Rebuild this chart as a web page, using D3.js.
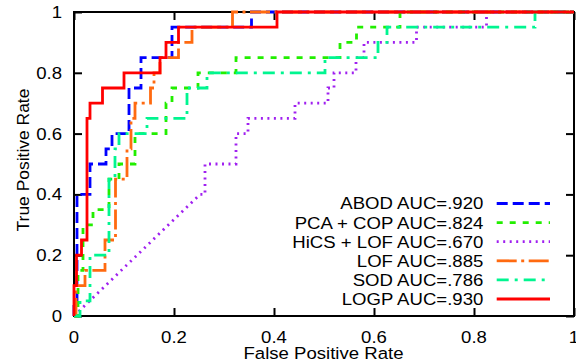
<!DOCTYPE html>
<html><head><meta charset="utf-8">
<script src="https://cdn.jsdelivr.net/npm/d3@7"></script>
<style>
html,body{margin:0;padding:0;background:#fff;}
text{font-family:"Liberation Sans",Arial,Helvetica,sans-serif;fill:#000;}
</style></head>
<body>
<svg id="chart" width="576" height="364"></svg>
<script>
// ---- data (FPR / TPR step corners) ----
const seriesNames = ["ABOD AUC=.920","PCA + COP AUC=.824","HiCS + LOF AUC=.670","LOF AUC=.885","SOD AUC=.786","LOGP AUC=.930"];
const abodFpr = [0,0,0.006,0.006,0.032,0.032,0.064,0.064,0.076,0.076,0.11,0.11,0.134,0.134,0.196,0.196,0.355,0.355,1];
const abodTpr = [0,0.05,0.05,0.4,0.4,0.5,0.5,0.55,0.55,0.6,0.6,0.75,0.75,0.85,0.85,0.95,0.95,1,1];
const pcaFpr = [0,0.008,0.008,0.018,0.018,0.038,0.038,0.07,0.07,0.09,0.09,0.122,0.122,0.184,0.184,0.196,0.196,0.248,0.248,0.324,0.324,0.532,0.532,0.565,0.565,0.652,0.652,1];
const pcaTpr = [0,0,0.15,0.15,0.3,0.3,0.35,0.35,0.45,0.45,0.5,0.5,0.6,0.6,0.7,0.7,0.75,0.75,0.8,0.8,0.85,0.85,0.9,0.9,0.95,0.95,1,1];
const hicsFpr = [0,0.252,0.262,0.262,0.324,0.324,0.348,0.348,0.442,0.442,0.508,0.508,0.52,0.52,0.564,0.564,0.58,0.58,0.685,0.685,0.825,0.825,1];
const hicsTpr = [0,0.4,0.4,0.5,0.5,0.6,0.6,0.65,0.65,0.7,0.7,0.75,0.75,0.8,0.8,0.85,0.85,0.9,0.9,0.95,0.95,1,1];
const lofFpr = [0,0.004,0.004,0.022,0.022,0.062,0.062,0.083,0.083,0.106,0.106,0.114,0.114,0.122,0.122,0.153,0.153,0.16,0.16,0.172,0.172,0.209,0.209,0.236,0.236,0.317,0.317,1];
const lofTpr = [0,0,0.1,0.1,0.15,0.15,0.25,0.25,0.45,0.45,0.55,0.55,0.65,0.65,0.7,0.7,0.75,0.75,0.8,0.8,0.85,0.85,0.9,0.9,0.95,0.95,1,1];
const sodFpr = [0,0.012,0.012,0.032,0.032,0.07,0.07,0.082,0.082,0.09,0.09,0.146,0.146,0.226,0.226,0.266,0.266,0.502,0.502,0.608,0.608,0.626,0.626,0.922,0.922,1];
const sodTpr = [0,0,0.05,0.05,0.2,0.2,0.45,0.45,0.55,0.55,0.6,0.6,0.65,0.65,0.75,0.75,0.8,0.8,0.85,0.85,0.9,0.9,0.95,0.95,1,1];
const logpFpr = [0,0,0.005,0.005,0.015,0.015,0.026,0.026,0.032,0.032,0.057,0.057,0.1,0.1,0.172,0.172,0.184,0.184,0.209,0.209,0.406,0.406,1];
const logpTpr = [0,0.1,0.1,0.2,0.2,0.25,0.25,0.65,0.65,0.7,0.7,0.75,0.75,0.8,0.8,0.85,0.85,0.9,0.9,0.95,0.95,1,1];
const xTicks = [0,0.2,0.4,0.6,0.8,1];
const yTicks = [0,0.2,0.4,0.6,0.8,1];
const xTickLabels = ["0","0.2","0.4","0.6","0.8","1"];
const yTickLabels = ["0","0.2","0.4","0.6","0.8","1"];
const xTitle = "False Positive Rate";
const yTitle = "True Positive Rate";

// ---- styles ----
const colors = ["#0000ff","#22ee00","#a020f0","#ff6a10","#00f590","#ff0000"];
const dashes = ["11,5","6,7","2,4.5","20,4.5,3,4.5","12,6,3,6",null];
const SX = 1.14, FS = 16.3;

const svg = d3.select("#chart");
const L = 74, R = 574, T = 12, B = 316;
const x = d3.scaleLinear().domain([0,1]).range([L,R]);
const y = d3.scaleLinear().domain([0,1]).range([B,T]);

const seriesF = [abodFpr,pcaFpr,hicsFpr,lofFpr,sodFpr,logpFpr];
const seriesT = [abodTpr,pcaTpr,hicsTpr,lofTpr,sodTpr,logpTpr];

// axes with inward ticks (mirrored)
const tl = 8;
const axB = svg.append("g").attr("transform",`translate(0,${B})`)
  .call(d3.axisTop(x).tickValues(xTicks).tickSize(tl).tickFormat(""));
const axT = svg.append("g").attr("transform",`translate(0,${T})`)
  .call(d3.axisBottom(x).tickValues(xTicks).tickSize(tl).tickFormat(""));
const axL = svg.append("g").attr("transform",`translate(${L},0)`)
  .call(d3.axisRight(y).tickValues(yTicks).tickSize(tl).tickFormat(""));
const axR = svg.append("g").attr("transform",`translate(${R},0)`)
  .call(d3.axisLeft(y).tickValues(yTicks).tickSize(tl).tickFormat(""));
[axB,axT,axL,axR].forEach(a=>{
  a.select(".domain").remove();
  a.selectAll(".tick line").attr("stroke","#000").attr("stroke-width",2);
});
svg.append("rect").attr("x",L).attr("y",T).attr("width",R-L).attr("height",B-T)
  .attr("fill","none").attr("stroke","#000").attr("stroke-width",2);

// tick labels
xTicks.forEach((v,i)=>{
  svg.append("text").attr("transform",`translate(${x(v)},343.3) scale(${SX},1)`)
    .attr("text-anchor","middle").attr("font-size",FS).text(xTickLabels[i]);
});
yTicks.forEach((v,i)=>{
  svg.append("text").attr("transform",`translate(62,${y(v)+5.9}) scale(${SX},1)`)
    .attr("text-anchor","end").attr("font-size",FS).text(yTickLabels[i]);
});
svg.append("text").attr("transform",`translate(323.5,358.5) scale(${SX},1)`)
  .attr("text-anchor","middle").attr("font-size",FS).text(xTitle);
svg.append("text").attr("transform",`translate(28.5,160) rotate(-90) scale(1.07,1)`)
  .attr("text-anchor","middle").attr("font-size",FS).text(yTitle);

// curves
const line = d3.line().x(d=>x(d[0])).y(d=>y(d[1]));
seriesF.forEach((f,i)=>{
  const pts = f.map((v,j)=>[v,seriesT[i][j]]);
  const p = svg.append("path").attr("d",line(pts)).attr("fill","none")
    .attr("stroke",colors[i]).attr("stroke-width",2.8).attr("stroke-linejoin","miter");
  if(dashes[i]) p.attr("stroke-dasharray",dashes[i]);
});

// legend
const rowY = d3.scaleLinear().domain([0,5]).range([203.5,299]);
seriesNames.forEach((n,i)=>{
  const yy = rowY(i);
  svg.append("text").attr("transform",`translate(483.3,${yy+5.9}) scale(${SX},1)`)
    .attr("text-anchor","end").attr("font-size",FS).text(n);
  const p = svg.append("line").attr("x1",496.7).attr("x2",550).attr("y1",yy).attr("y2",yy)
    .attr("stroke",colors[i]).attr("stroke-width",2.8);
  if(dashes[i]) p.attr("stroke-dasharray",dashes[i]);
});
</script>
</body></html>
